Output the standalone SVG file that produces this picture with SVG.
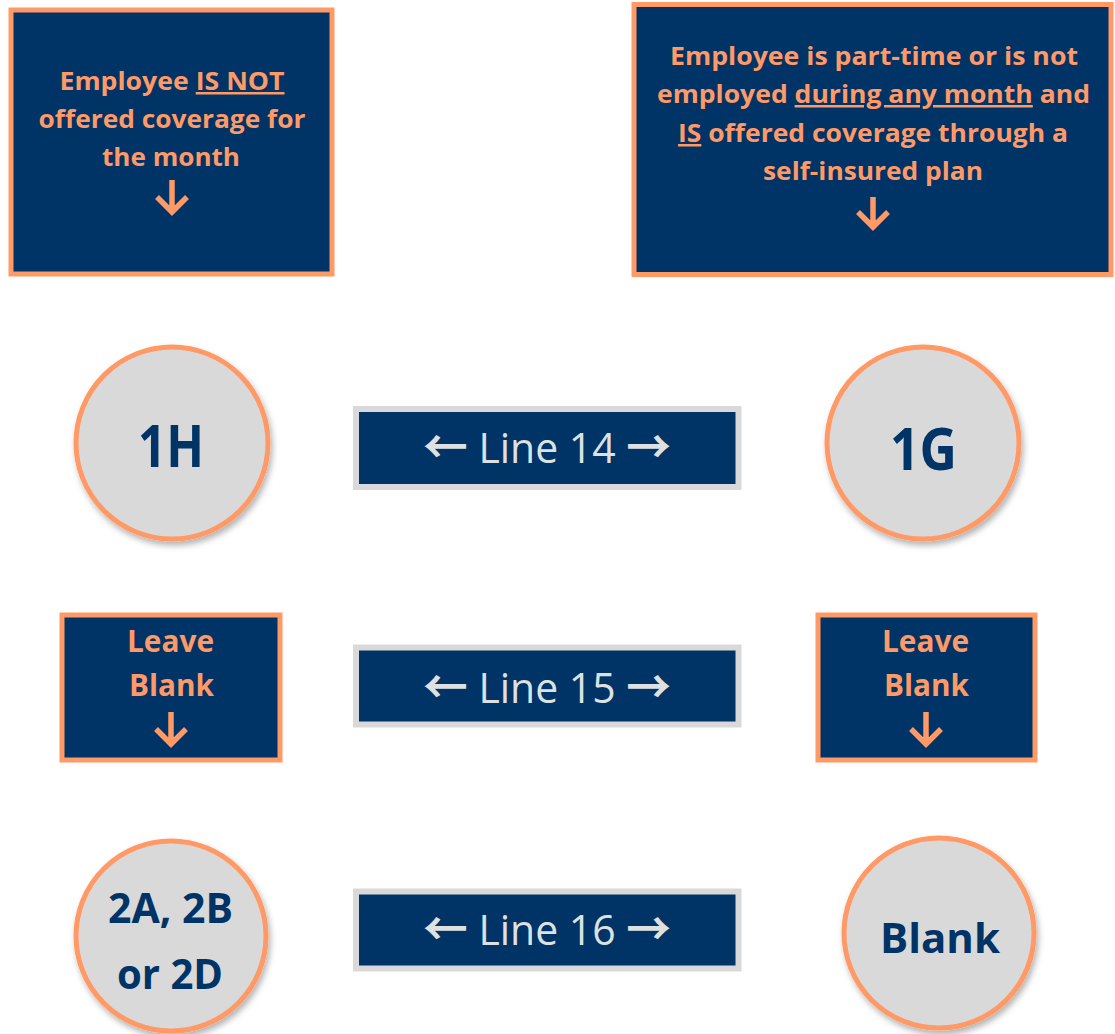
<svg xmlns="http://www.w3.org/2000/svg" width="1115" height="1034" viewBox="0 0 1115 1034">
<defs>
<filter id="sh" x="-20%" y="-20%" width="150%" height="150%"><feDropShadow dx="2" dy="4" stdDeviation="3" flood-color="#000" flood-opacity="0.3"/></filter>
</defs>
<style>
.box{fill:#003366;stroke:#FF9966;stroke-width:5}
.circ{fill:#D9D9D9;stroke:#FF9966;stroke-width:5;filter:url(#sh)}
.line{fill:#003366;stroke:#D9D9D9;stroke-width:6}
.ot{font-family:"Open Sans","Liberation Sans",sans-serif;font-weight:700;fill:#FF9966;text-anchor:middle}
.ct{font-family:"Open Sans","Liberation Sans",sans-serif;font-weight:700;fill:#003366;text-anchor:middle}
.lt{font-family:"Open Sans","Liberation Sans",sans-serif;font-weight:400;fill:#DDE1E1;text-anchor:middle;font-size:42px}
.ar{font-family:"Noto Sans CJK SC","DejaVu Sans",sans-serif;font-weight:700;font-size:46px}
.arr{fill:none;stroke:#FF9966;stroke-width:5.5}
.u{text-decoration:underline}
</style>
<rect width="1115" height="1034" fill="#FFFFFF"/>
<g id="connectors"/>
<g id="box-not-offered">
<rect class="box" x="11" y="10" width="321" height="264"/>
<text class="ot" font-size="25"><tspan x="172" y="90" textLength="225" lengthAdjust="spacingAndGlyphs">Employee <tspan class="u">IS NOT</tspan></tspan></text>
<text class="ot" font-size="25" x="172" y="128" textLength="267" lengthAdjust="spacingAndGlyphs">offered coverage for</text>
<text class="ot" font-size="25" x="171" y="166" textLength="138" lengthAdjust="spacingAndGlyphs">the month</text>
<path class="arr" d="M172 180V212M157 197L172 212L187 197"/>
</g>
<g id="box-part-time">
<rect class="box" x="634" y="4.5" width="477" height="270"/>
<text class="ot" font-size="25" x="874" y="65" textLength="408" lengthAdjust="spacingAndGlyphs">Employee is part-time or is not</text>
<text class="ot" font-size="25" x="873.5" y="103" textLength="433" lengthAdjust="spacingAndGlyphs">employed <tspan class="u">during any month</tspan> and</text>
<text class="ot" font-size="25" x="873" y="142" textLength="390" lengthAdjust="spacingAndGlyphs"><tspan class="u">IS</tspan> offered coverage through a</text>
<text class="ot" font-size="25" x="873" y="180" textLength="220" lengthAdjust="spacingAndGlyphs">self-insured plan</text>
<path class="arr" d="M873 197V227M858 212L873 227L888 212"/>
</g>
<g id="circle-1H">
<circle class="circ" cx="172" cy="443" r="96"/>
<text class="ct" font-size="59" x="171" y="467" textLength="66" lengthAdjust="spacingAndGlyphs">1H</text>
</g>
<g id="line-14">
<rect class="line" x="356" y="409" width="382.5" height="78"/>
<text class="lt" x="547" y="463" textLength="248" lengthAdjust="spacingAndGlyphs"><tspan class="ar">←</tspan> Line 14 <tspan class="ar">→</tspan></text>
</g>
<g id="circle-1G">
<circle class="circ" cx="923" cy="443" r="96"/>
<text class="ct" font-size="59" x="923.5" y="470" textLength="67" lengthAdjust="spacingAndGlyphs">1G</text>
</g>
<g id="leave-blank-left">
<rect class="box" x="62" y="615" width="218" height="145"/>
<text class="ot" font-size="31" x="170.5" y="652" textLength="87" lengthAdjust="spacingAndGlyphs">Leave</text>
<text class="ot" font-size="31" x="171.5" y="696" textLength="85" lengthAdjust="spacingAndGlyphs">Blank</text>
<path class="arr" d="M171 712V744M156 729L171 744L186 729"/>
</g>
<g id="line-15">
<rect class="line" x="356" y="647.5" width="382.5" height="77"/>
<text class="lt" x="547" y="703" textLength="248" lengthAdjust="spacingAndGlyphs"><tspan class="ar">←</tspan> Line 15 <tspan class="ar">→</tspan></text>
</g>
<g id="leave-blank-right">
<rect class="box" x="818" y="615" width="217" height="145"/>
<text class="ot" font-size="31" x="925.5" y="652" textLength="87" lengthAdjust="spacingAndGlyphs">Leave</text>
<text class="ot" font-size="31" x="926.5" y="696" textLength="85" lengthAdjust="spacingAndGlyphs">Blank</text>
<path class="arr" d="M926 712V744M911 729L926 744L941 729"/>
</g>
<g id="circle-2A">
<circle class="circ" cx="171" cy="936" r="95"/>
<text class="ct" font-size="42" x="170.5" y="923" textLength="125" lengthAdjust="spacingAndGlyphs">2A, 2B</text>
<text class="ct" font-size="42" x="170" y="989" textLength="106" lengthAdjust="spacingAndGlyphs">or 2D</text>
</g>
<g id="line-16">
<rect class="line" x="356" y="891.5" width="382.5" height="77"/>
<text class="lt" x="547" y="945" textLength="248" lengthAdjust="spacingAndGlyphs"><tspan class="ar">←</tspan> Line 16 <tspan class="ar">→</tspan></text>
</g>
<g id="circle-blank">
<circle class="circ" cx="939" cy="933" r="95"/>
<text class="ct" font-size="42" x="940" y="953" textLength="120" lengthAdjust="spacingAndGlyphs">Blank</text>
</g>
</svg>
